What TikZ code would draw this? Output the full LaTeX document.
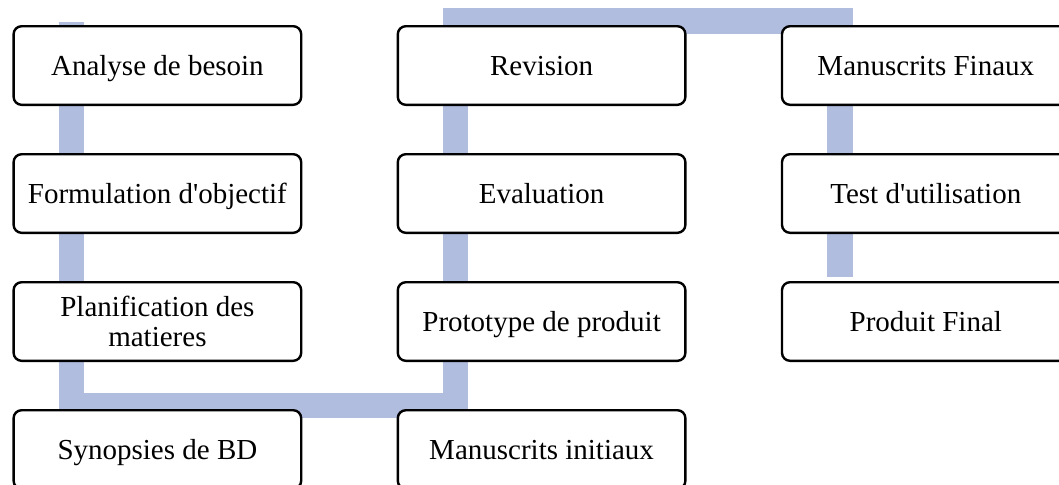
\documentclass[tikz,border=0pt]{standalone}
\usepackage{fontspec}
\setmainfont{Liberation Serif}
\usepackage{tikz}
\usetikzlibrary{positioning,backgrounds}
\definecolor{barblue}{RGB}{176,189,222}

\begin{document}
\begin{tikzpicture}[node distance=23.5pt and 47.1pt,
  box/.style={draw=black,fill=white,line width=1.2pt,rounded corners=4pt,
    minimum width=143.8pt,minimum height=39.3pt,inner sep=0pt,align=center,
    font=\fontsize{14.5}{15}\selectfont,text depth=0pt,
    execute at begin node={\rule{0pt}{9.6pt}}},
  flow/.style={draw=barblue,line width=12.75pt}]
\useasboundingbox (0,0) rectangle (529.5pt,-242pt);
\node[box,anchor=north west] (1) at (6.2pt,-12.5pt) {Analyse de besoin};
\node[box] (2)[below=of 1]  {Formulation d\textquotesingle objectif};
\node[box] (3)[below=of 2]  {Planification des\\matieres};
\node[box] (4)[below=of 3]  {Synopsies de BD};
\node[box] (5)[right=of 4]  {Manuscrits initiaux};
\node[box] (6)[above=of 5]  {Prototype de produit};
\node[box] (7)[above=of 6]  {Evaluation};
\node[box] (8)[above=of 7]  {Revision};
\node[box] (9)[right=of 8]  {Manuscrits Finaux};
\node[box] (10)[below=of 9] {Test d\textquotesingle utilisation};
\node[box] (11)[below=of 10] {Produit Final};

\begin{pgfonlayer}{background}
\draw[flow] ([xshift=29.5pt,yshift=1.5pt]1.north west)
  -- ([xshift=29.5pt,yshift=1.75pt]4.north west)
  -- ([xshift=29.5pt,yshift=1.75pt]5.north west)
  -- ([xshift=29.5pt,yshift=2pt]8.north west)
  -- ([xshift=29.5pt,yshift=2pt]9.north west)
  -- ([xshift=29.5pt,yshift=2pt]11.north west);
\end{pgfonlayer}
\end{tikzpicture}
\end{document}
